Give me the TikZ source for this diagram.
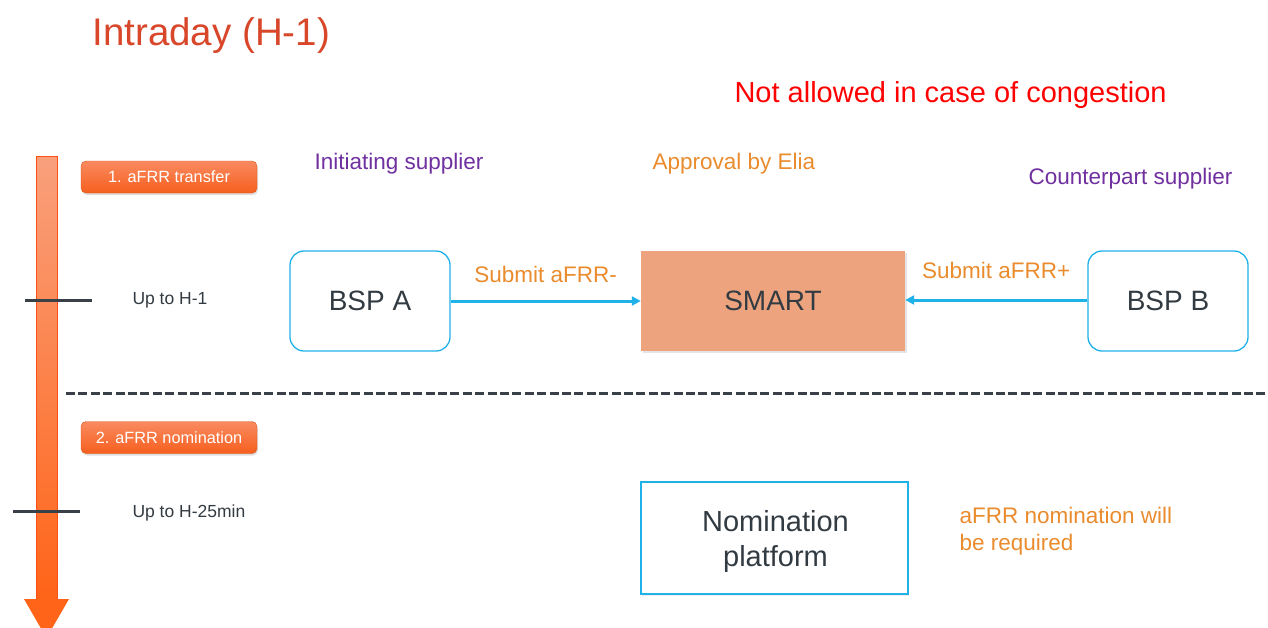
\documentclass[tikz,border=0pt]{standalone}
\usepackage{fontspec}
\setmainfont{Liberation Sans}
\usetikzlibrary{arrows.meta,shadows}
\definecolor{titlered}{HTML}{D9472B}
\definecolor{warnred}{HTML}{FF0000}
\definecolor{purp}{HTML}{7030A0}
\definecolor{orng}{HTML}{EA8C2E}
\definecolor{cyanb}{HTML}{1FB2E8}
\definecolor{smartfill}{HTML}{EDA47E}
\definecolor{darktxt}{HTML}{333B42}
\definecolor{tickc}{HTML}{3A4048}
\definecolor{barlight}{HTML}{F9A07C}
\definecolor{bardark}{HTML}{FF6418}
\definecolor{lablight}{HTML}{F98A60}
\definecolor{labdark}{HTML}{F65F1E}
\tikzset{
  fs/.style={font=\fontsize{#1pt}{\dimexpr #1pt*6/5\relax}\selectfont},
  roundbox/.style={draw=cyanb, line width=1.3pt, rounded corners=14pt, fill=white,
     minimum width=160pt, minimum height=100pt, text=darktxt, fs=28},
  labelbox/.style={rounded corners=5pt, top color=lablight, bottom color=labdark,
     draw=labdark!90!black, line width=0.4pt, minimum width=176pt, minimum height=32pt,
     text=white, fs=16.3, drop shadow={opacity=0.25, shadow xshift=1pt, shadow yshift=-2pt}},
  flow/.style={draw=cyanb, line width=3pt, -{Triangle[length=9pt,width=9pt]}},
  tick/.style={draw=tickc, line width=3pt},
}
\begin{document}
\begin{tikzpicture}[x=1pt,y=-1pt]
\useasboundingbox (0,0) rectangle (1268,627);
\fill[white] (0,0) rectangle (1268,627);

% titles
\node[anchor=west, text=titlered, fs=38.5] (title) at (89,36) {Intraday (H-1)};
\node[anchor=west, text=warnred, fs=29] (warn) at (731,95) {Not allowed in case of congestion};

% timeline arrow
\shade[top color=barlight, bottom color=bardark, draw=bardark!80!red, line width=0.6pt]
  (36,156) rectangle (57,600);
\fill[bardark] (24,599) -- (69,599) -- (46.5,638) -- cycle;

% ticks
\coordinate (t1a) at (25,300); \coordinate (t1b) at (92,300);
\coordinate (t2a) at (13,511); \coordinate (t2b) at (80,511);
\draw[tick] (t1a) -- (t1b);
\draw[tick] (t2a) -- (t2b);

% phase labels
\node[labelbox] (l1) at (169,177) {1. aFRR transfer};
\node[labelbox] (l2) at (169,437.5) {2. aFRR nomination};
\node[anchor=west, text=darktxt, fs=17.5] (u1) at (129,300) {Up to H-1};
\node[anchor=west, text=darktxt, fs=17.5] (u2) at (129,513) {Up to H-25min};

% role labels
\node[anchor=west, text=purp, fs=22.5] (init) at (311,164) {Initiating supplier};
\node[anchor=west, text=orng, fs=22.5] (appr) at (649,164) {Approval by Elia};
\node[anchor=west, text=purp, fs=22.5] (cntr) at (1025,179) {Counterpart supplier};

% main boxes
\node[roundbox] (bspa) at (370,301) {BSP A};
\node[roundbox] (bspb) at (1168,301) {BSP B};
\node[fill=smartfill, minimum width=264pt, minimum height=100pt, text=darktxt, fs=28,
      drop shadow={opacity=0.2, shadow xshift=1.5pt, shadow yshift=-2pt}] (smart) at (773,301) {SMART};

\draw[flow] (bspa) -- node[above=13.5pt, text=orng, fs=22.5] (sm) {Submit aFRR-} (smart);
\draw[flow] (bspb.west |- 0,300) -- node[above=16.5pt, text=orng, fs=22.5] (sp) {Submit aFRR+} (smart.east |- 0,300);

% separator
\coordinate (sepa) at (66,393); \coordinate (sepb) at (1268,393);
\draw[draw=tickc, line width=3pt, dash pattern=on 9pt off 3.4pt] (sepa) -- (sepb);

% nomination
\node[draw=cyanb, line width=1.2pt, minimum width=267pt, minimum height=112pt, fill=white,
      drop shadow={opacity=0.15, shadow xshift=1pt, shadow yshift=-2pt}] (nom) at (774.5,538) {};
\node[text=darktxt, fs=29, align=center, font=\fontsize{29pt}{35pt}\selectfont] (nomt) at (775.5,541) {Nomination\\platform};
\node[anchor=north west, text=orng, align=left, font=\fontsize{22.5pt}{27pt}\selectfont] (req) at (956,504) {aFRR nomination will\\be required};
\end{tikzpicture}
\end{document}
